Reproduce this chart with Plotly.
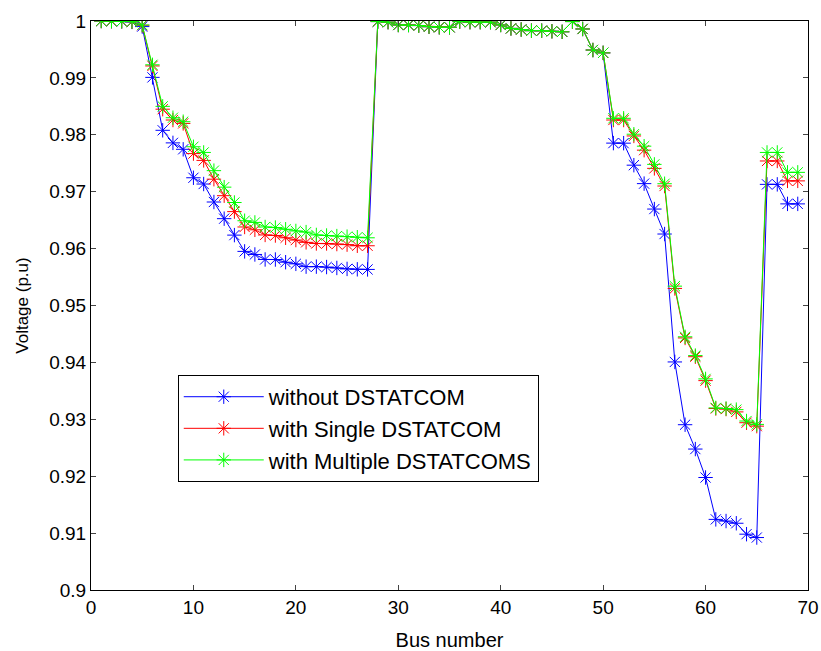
import plotly.graph_objects as go

bus = list(range(1, 70))

v_without = [
    1.0000, 0.99997, 0.99993, 0.99984, 0.99902, 0.99009, 0.98079, 0.97858, 0.97745, 0.97245,
    0.97135, 0.96819, 0.96526, 0.96237, 0.95951, 0.95897, 0.95809, 0.95808, 0.95761, 0.95732,
    0.95683, 0.95683, 0.95676, 0.95660, 0.95643, 0.95636, 0.95634,
    0.9999, 0.9998, 0.9993, 0.9993, 0.9992, 0.9990, 0.9989, 0.9989, 0.9999, 0.9998,
    0.9998, 0.9998, 0.9993, 0.9987, 0.9985, 0.9983, 0.9983, 0.9982, 0.9981, 0.9999,
    0.9986, 0.9949, 0.9944,
    0.97854, 0.97853, 0.97466, 0.97142, 0.96695, 0.96256, 0.94008, 0.92905, 0.92477, 0.91977,
    0.91241, 0.91212, 0.91173, 0.90981, 0.90922, 0.97129, 0.97129, 0.96786, 0.96786,
]

v_single = [
    1.0000, 0.99998, 0.99995, 0.99988, 0.99925, 0.9921, 0.9845, 0.9826, 0.9820, 0.9767,
    0.9755, 0.9722, 0.9693, 0.9665, 0.9638, 0.9633, 0.9624, 0.9623, 0.9619, 0.9615,
    0.9611, 0.9609, 0.9609, 0.9608, 0.9607, 0.9605, 0.9605,
    0.9999, 0.9998, 0.9993, 0.9993, 0.9992, 0.9990, 0.9989, 0.9989, 0.9999, 0.9998,
    0.9998, 0.9998, 0.9993, 0.9987, 0.9985, 0.9983, 0.9983, 0.9982, 0.9981, 0.9999,
    0.9986, 0.9949, 0.9944,
    0.9826, 0.9826, 0.9798, 0.9773, 0.9741, 0.9710, 0.9530, 0.9443, 0.9410, 0.9368,
    0.9319, 0.9318, 0.9313, 0.9294, 0.9288, 0.9754, 0.9754, 0.9719, 0.9719,
]

v_multiple = [
    1.0000, 0.99998, 0.99995, 0.99989, 0.99930, 0.9923, 0.9850, 0.9830, 0.9823, 0.9779,
    0.9769, 0.9737, 0.9708, 0.9681, 0.9649, 0.9646, 0.9638, 0.9637, 0.9634, 0.9631,
    0.9629, 0.9624, 0.9623, 0.9622, 0.9621, 0.9620, 0.9619,
    0.9999, 0.9998, 0.9993, 0.9993, 0.9992, 0.9990, 0.9989, 0.9989, 0.9999, 0.9998,
    0.9998, 0.9998, 0.9993, 0.9987, 0.9985, 0.9983, 0.9983, 0.9982, 0.9981, 0.9999,
    0.9986, 0.9949, 0.9944,
    0.9829, 0.9829, 0.9801, 0.9780, 0.9748, 0.9714, 0.9534, 0.9445, 0.9412, 0.9371,
    0.9320, 0.9319, 0.9317, 0.9297, 0.9291, 0.9769, 0.9769, 0.9734, 0.9734,
]

series = [
    ("without DSTATCOM", v_without, "#0000FF"),
    ("with Single DSTATCOM", v_single, "#FF0000"),
    ("with Multiple DSTATCOMS", v_multiple, "#00FF00"),
]

x_ticks = [0, 10, 20, 30, 40, 50, 60, 70]
y_ticks = [0.9, 0.91, 0.92, 0.93, 0.94, 0.95, 0.96, 0.97, 0.98, 0.99, 1.0]
y_tick_text = ["0.9", "0.91", "0.92", "0.93", "0.94", "0.95", "0.96", "0.97", "0.98", "0.99", "1"]

FONT = "Liberation Sans, Arial, sans-serif"

fig = go.Figure()
for name, vals, color in series:
    fig.add_trace(go.Scatter(
        x=bus, y=vals, name=name, mode="lines+markers",
        line=dict(color=color, width=1),
        marker=dict(symbol="asterisk-open", size=12, color=color,
                    line=dict(color=color, width=1)),
    ))

fig.update_layout(
    width=821, height=651,
    margin=dict(l=91, r=13, t=21, b=61),
    paper_bgcolor="white", plot_bgcolor="white",
    font=dict(family=FONT, size=19, color="black"),
    showlegend=True,
    legend=dict(
        x=0.121, y=0.378, xanchor="left", yanchor="top",
        bgcolor="white", bordercolor="black", borderwidth=1,
        font=dict(family=FONT, size=22, color="black"),
        itemwidth=80, tracegroupgap=0,
    ),
)

fig.update_xaxes(
    range=[0, 70], tickvals=x_ticks, ticktext=[str(t) for t in x_ticks],
    showgrid=False, zeroline=False, automargin=False, ticklabeloverflow="allow",
    showline=True, linecolor="black", linewidth=1, mirror="ticks",
    ticks="inside", ticklen=5, tickcolor="#444444",
    tickfont=dict(family=FONT, size=19, color="black"),
    title=dict(text="Bus number", font=dict(family=FONT, size=20, color="black"), standoff=18),
)
fig.update_yaxes(
    range=[0.9, 1.0], tickvals=y_ticks, ticktext=y_tick_text,
    showgrid=False, zeroline=False, automargin=False, ticklabeloverflow="allow",
    showline=True, linecolor="black", linewidth=1, mirror="ticks",
    ticks="inside", ticklen=5, tickcolor="#444444",
    tickfont=dict(family=FONT, size=19, color="black"),
    title=dict(text="Voltage (p.u)", font=dict(family=FONT, size=17, color="black"), standoff=16),
)

fig.write_html(
    "out.html",
    config={"displayModeBar": False},
    post_script="document.body.style.margin='0';document.body.style.overflow='hidden';",
)
